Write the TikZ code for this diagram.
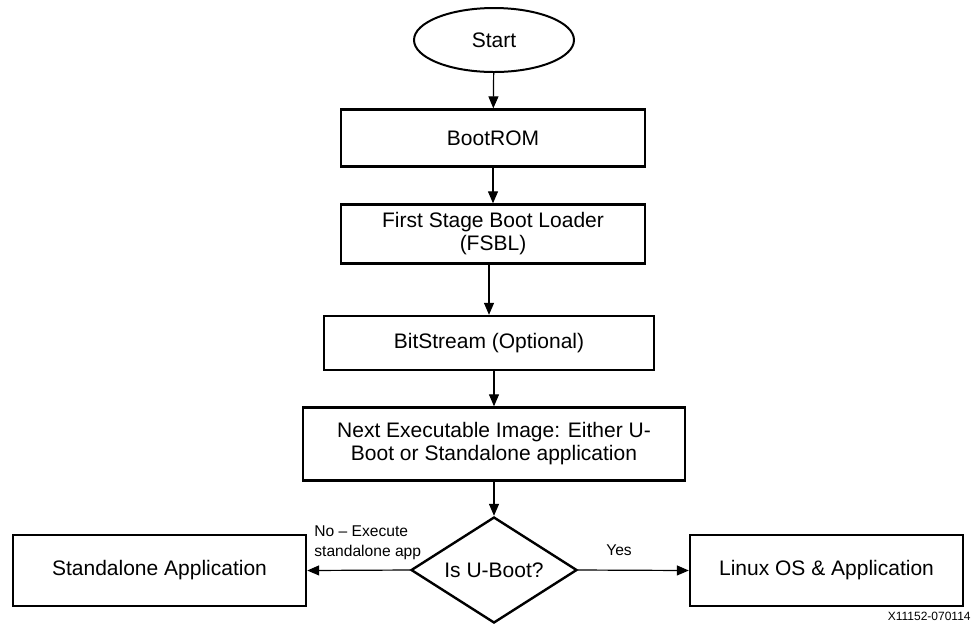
\documentclass[tikz,border=0pt]{standalone}
\usepackage{fontspec}
\setmainfont{Liberation Sans}
\usetikzlibrary{positioning, arrows.meta, shapes.geometric}

\tikzset{
  box/.style={draw=black, line width=1.2pt, rectangle, align=center, inner sep=2pt,
    font=\fontsize{10.5}{11.5}\selectfont},
  terminal/.style={draw=black, line width=1pt, ellipse, inner sep=0pt,
    minimum width=80pt, minimum height=32pt, font=\fontsize{10.5}{11.5}\selectfont},
  decision/.style={draw=black, line width=1.2pt, diamond, inner sep=0pt, aspect=1.57,
    minimum width=83pt, minimum height=53pt, font=\fontsize{10.5}{11.5}\selectfont},
  link/.style={-{Triangle[length=6pt, width=5pt]}, line width=0.6pt},
  tag/.style={font=\fontsize{7.8}{10}\selectfont, inner sep=0pt}
}

\begin{document}
\begin{tikzpicture}[x=0.5pt, y=-0.5pt]
\useasboundingbox (0,0) rectangle (974,623);

% boot flow
\node[terminal] (start) at (494,40) {Start};
\node[box, minimum width=152pt, minimum height=28.5pt] (bootrom) at (493,138) {BootROM};
\node[box, minimum width=152pt, minimum height=29.5pt] (fsbl) at (493,234) {First Stage Boot Loader\\(FSBL)};
\node[box, minimum width=165pt, minimum height=27pt] (bitstream) at (489,343) {BitStream (Optional)};
\node[box, minimum width=191pt, minimum height=36.5pt] (nextimg) at (494,444) {Next Executable Image: Either U-\\Boot or Standalone application};
\node[decision] (isuboot) at (494,570) {Is U-Boot?};
\node[box, minimum width=146.5pt, minimum height=35.5pt] (standalone) at (159.5,570.5) {Standalone Application};
\node[box, minimum width=136.5pt, minimum height=35.5pt] (linux) at (826.5,570.5) {Linux OS \& Application};

\draw[link] (start) -- (bootrom);
\draw[link] (bootrom) -- (fsbl);
\draw[link] (fsbl.south -| bitstream.north) -- (bitstream);
\draw[link] (bitstream.south -| nextimg.north) -- (nextimg);
\draw[link] (nextimg) -- (isuboot);
\draw[link] (isuboot.west) -- (standalone.east);
\draw[link] (isuboot.east) -- (linux.west);

% branch labels
\node[tag, anchor=west, align=left] (nolabel) at (314,543) {No -- Execute\\standalone app};
\node[tag] (yeslabel) at (619,550) {Yes};

\node[font=\fontsize{6}{7}\selectfont, anchor=south east, inner sep=0pt] (figid) at (971,621) {X11152-070114};
\end{tikzpicture}
\end{document}
